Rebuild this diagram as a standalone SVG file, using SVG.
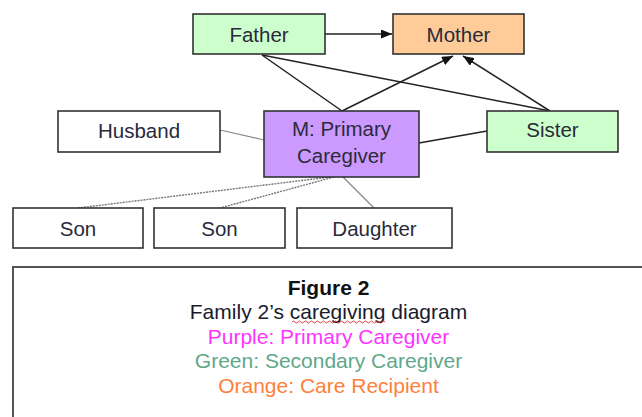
<svg xmlns="http://www.w3.org/2000/svg" width="642" height="417" viewBox="0 0 642 417">
<style>
.box{stroke:#333;stroke-width:1.6}
.lbl{font-family:"Liberation Sans",Arial,sans-serif;font-size:20.5px;fill:#2a2a3a;text-anchor:middle}
.dark{stroke:#222;stroke-width:1.5;fill:none}
.gray{stroke:#888;stroke-width:1.2;fill:none}
.dot{stroke:#777;stroke-width:1.4;stroke-dasharray:2 1;fill:none}
.cap{font-family:"Liberation Sans",Arial,sans-serif;font-size:21px;text-anchor:middle}
</style>
<defs>
<marker id="ah" markerWidth="11" markerHeight="9" refX="11" refY="4.5" orient="auto" markerUnits="userSpaceOnUse">
<path d="M0,0 L11,4.5 L0,9 Z" fill="#111"/>
</marker>
</defs>
<rect width="642" height="417" fill="#fff"/>
<g id="connectors">
<line class="dark" x1="325" y1="34" x2="392" y2="34" marker-end="url(#ah)"/>
<line class="dark" x1="262" y1="55" x2="342" y2="111"/>
<line class="dark" x1="262" y1="55" x2="550" y2="111"/>
<line class="dark" x1="342" y1="111" x2="453" y2="56" marker-end="url(#ah)"/>
<line class="dark" x1="550" y1="111" x2="463" y2="56" marker-end="url(#ah)"/>
<line class="dark" x1="419" y1="143" x2="487" y2="131"/>
<line class="gray" x1="220" y1="130" x2="264" y2="140"/>
<line class="dot" x1="330" y1="177" x2="78" y2="208"/>
<line class="dot" x1="334" y1="177" x2="220" y2="208"/>
<line class="gray" x1="343" y1="177" x2="374" y2="208"/>
</g>
<g id="father"><rect class="box" x="193" y="14" width="132" height="40" fill="#ccffcc"/><text class="lbl" x="259" y="42">Father</text></g>
<g id="mother"><rect class="box" x="393" y="14" width="131" height="40" fill="#ffcc99"/><text class="lbl" x="458.5" y="42">Mother</text></g>
<g id="husband"><rect class="box" x="58" y="111" width="162" height="41" fill="#fff"/><text class="lbl" x="139" y="138">Husband</text></g>
<g id="primary"><rect class="box" x="264" y="111" width="155" height="66" fill="#cc99ff"/><text class="lbl" x="341.5" y="136">M: Primary</text><text class="lbl" x="341.5" y="163">Caregiver</text></g>
<g id="sister"><rect class="box" x="487" y="111" width="131" height="41" fill="#ccffcc"/><text class="lbl" x="552.5" y="137">Sister</text></g>
<g id="son1"><rect class="box" x="13" y="208" width="130" height="40" fill="#fff"/><text class="lbl" x="78" y="236">Son</text></g>
<g id="son2"><rect class="box" x="154" y="208" width="131" height="40" fill="#fff"/><text class="lbl" x="219.5" y="236">Son</text></g>
<g id="daughter"><rect class="box" x="297" y="208" width="155" height="40" fill="#fff"/><text class="lbl" x="374.5" y="236">Daughter</text></g>
<g id="caption">
<rect x="13" y="267" width="700" height="200" fill="#fff" stroke="#555" stroke-width="2"/>
<text class="cap" x="328.5" y="295" font-weight="bold" fill="#111">Figure 2</text>
<text class="cap" x="328.5" y="319" fill="#1a1a2a">Family 2’s caregiving diagram</text>
<path d="M292,322 q1.5,-2 3,0 t3,0 t3,0 t3,0 t3,0 t3,0 t3,0 t3,0 t3,0 t3,0 t3,0 t3,0 t3,0 t3,0 t3,0 t3,0 t3,0 t3,0 t3,0 t3,0 t3,0 t3,0 t3,0 t3,0 t3,0 t3,0 t3,0 t3,0 t3,0 t3,0 t3,0" fill="none" stroke="#e03030" stroke-width="0.9"/>
<text class="cap" x="328.5" y="344" fill="#ff33ff">Purple: Primary Caregiver</text>
<text class="cap" x="328.5" y="368" fill="#5fa88a">Green: Secondary Caregiver</text>
<text class="cap" x="328.5" y="393" fill="#ff7f3a">Orange: Care Recipient</text>
</g>
</svg>
